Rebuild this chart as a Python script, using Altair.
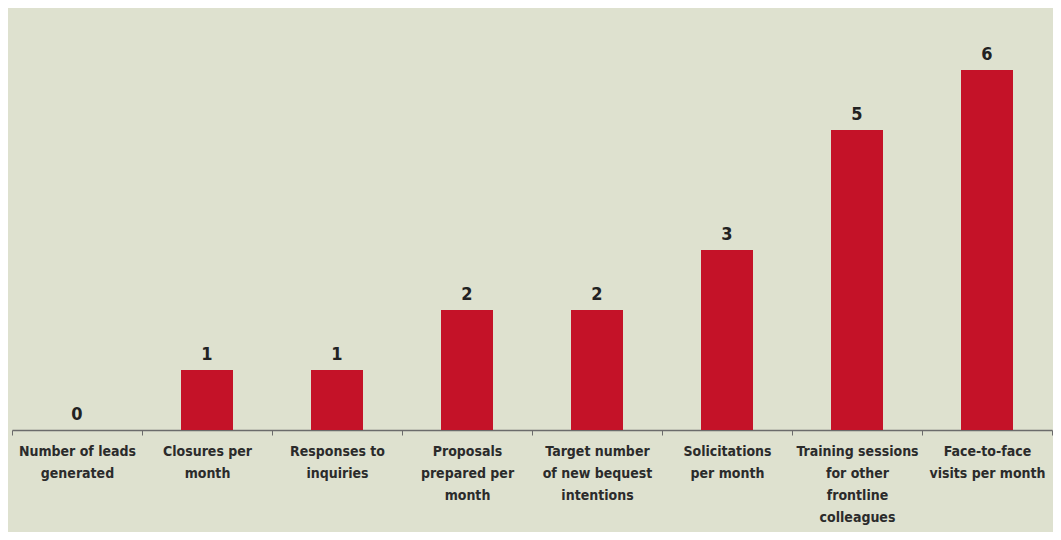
import altair as alt
import pandas as pd

categories = [
    "Number of leads|generated",
    "Closures per|month",
    "Responses to|inquiries",
    "Proposals|prepared per|month",
    "Target number|of new bequest|intentions",
    "Solicitations|per month",
    "Training sessions|for other|frontline|colleagues",
    "Face-to-face|visits per month",
]
values = [0, 1, 1, 2, 2, 3, 5, 6]

df = pd.DataFrame({"cat": categories, "val": values})

FONT = "DejaVu Sans Condensed, DejaVu Sans, sans-serif"

x = alt.X(
    "cat:N",
    sort=categories,
    title=None,
    scale=alt.Scale(paddingInner=0, paddingOuter=0),
    axis=alt.Axis(
        labelExpr="split(datum.label, '|')",
        labelAngle=0,
        labelFont=FONT,
        labelFontSize=14,
        labelFontWeight="bold",
        labelColor="#2b2b2b",
        labelLineHeight=22,
        labelPadding=9,
        labelLimit=200,
        tickBand="extent",
        tickSize=5,
        tickColor="#6b6b6b",
        domainColor="#6b6b6b",
        domainWidth=1.5,
        labelBaseline="top",
    ),
)
y = alt.Y("val:Q", scale=alt.Scale(domain=[0, 6], nice=False), axis=None)

bars = alt.Chart(df).mark_bar(color="#c41228", width=alt.RelativeBandSize(0.4)).encode(x=x, y=y)
text = alt.Chart(df).mark_text(
    baseline="bottom", dy=-6, font=FONT, fontSize=18, fontWeight="bold", color="#222222"
).encode(x=x, y=y, text="val:Q")

chart = (
    (bars + text)
    .properties(
        width=1040,
        height=360,
        background="#dee1cf",
        padding={"left": 4, "top": 62, "right": 1, "bottom": 102},
        autosize=alt.AutoSizeParams(type="none"),
    )
    .configure_view(stroke=None)
)

chart.save("out.html", embed_options={"renderer": "svg", "actions": False})
